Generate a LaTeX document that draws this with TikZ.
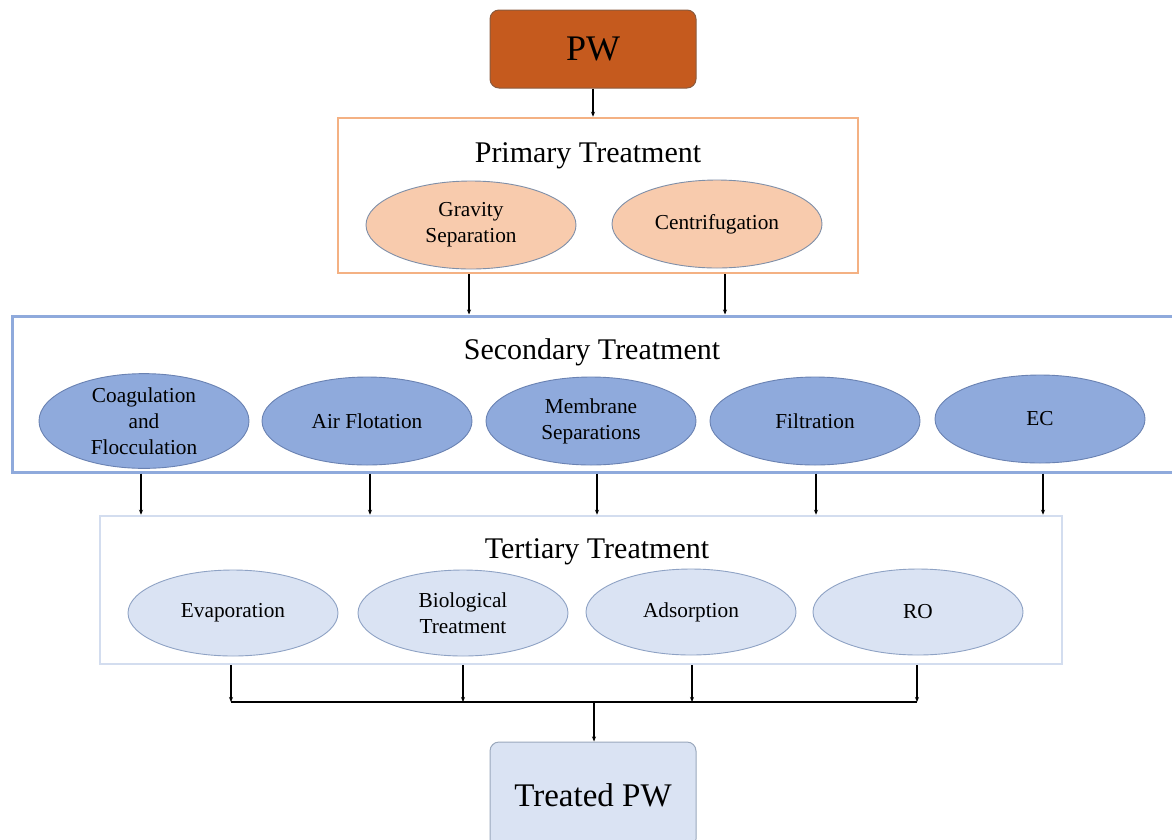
\documentclass[tikz,border=0pt]{standalone}
\usepackage{fontspec}
\setmainfont{Liberation Serif}
\usetikzlibrary{arrows.meta,shapes.geometric}

\definecolor{pwfill}{HTML}{C55A1E}
\definecolor{pwline}{HTML}{8A5A3E}
\definecolor{primline}{HTML}{F4B183}
\definecolor{primfill}{HTML}{F8CBAD}
\definecolor{secline}{HTML}{8FAADC}
\definecolor{secfill}{HTML}{8FAADC}
\definecolor{secedge}{HTML}{6A82B2}
\definecolor{terline}{HTML}{D3DDEF}
\definecolor{terfill}{HTML}{DAE3F3}
\definecolor{teredge}{HTML}{8EA2C4}
\definecolor{outline}{HTML}{9AA8BC}
\definecolor{ellline}{HTML}{7F8FA8}

\tikzset{
  arr/.style={draw=black, line width=1.1pt, -{Stealth[length=5pt,width=4pt]}},
  bus/.style={draw=black, line width=1.1pt},
  frame/.style={rectangle, minimum width=#1, fill=none, inner sep=0pt},
  title/.style={font=\fontsize{30}{33}\selectfont},
  oval/.style={ellipse, minimum width=210pt, minimum height=88pt, inner sep=0pt,
    align=center, font=\fontsize{21.3}{26}\selectfont, line width=0.9pt},
  poval/.style={oval, fill=primfill, draw=ellline},
  soval/.style={oval, fill=secfill, draw=secedge},
  toval/.style={oval, fill=terfill, draw=teredge, minimum height=86pt},
  endbox/.style={rectangle, rounded corners=9pt, minimum width=206pt,
    line width=1pt}
}

\begin{document}
\begin{tikzpicture}[x=1pt,y=-1pt]
\useasboundingbox (0,0) rectangle (1172,839);
\clip (0,0) rectangle (1172,839);

% source
\node[endbox, fill=pwfill, draw=pwline, minimum height=78pt,
      font=\fontsize{36}{40}\selectfont] (pw) at (593,49) {PW};

% primary stage
\node[frame=520pt, minimum height=155pt, draw=primline, line width=2.5pt] (prim) at (598,195.5) {};
\node[title] (primt) at (588,156) {Primary Treatment};
\node[poval] (gs) at (471,225) {Gravity\\Separation};
\node[poval] (cf) at (717,224) {Centrifugation};

% secondary stage (runs off the right edge)
\node[frame=1180pt, minimum height=156pt, draw=secline, line width=3pt] (sec) at (602,394) {};
\node[title] (sect) at (592,352) {Secondary Treatment};
\node[soval] (s1) at (144,421) {Coagulation\\and\\Flocculation};
\node[soval] (s2) at (367,421) {Air Flotation};
\node[soval] (s3) at (591,421) {Membrane\\Separations};
\node[soval] (s4) at (815,421) {Filtration};
\node[soval] (s5) at (1040,419) {EC};

% tertiary stage
\node[frame=962pt, minimum height=148pt, draw=terline, line width=2.5pt] (ter) at (581,590) {};
\node[title] (tert) at (597,552) {Tertiary Treatment};
\node[toval] (t1) at (233,613) {Evaporation};
\node[toval] (t2) at (463,613) {Biological\\Treatment};
\node[toval] (t3) at (691,612) {Adsorption};
\node[toval] (t4) at (918,612) {RO};

% product
\node[endbox, fill=terfill, draw=outline, minimum height=106pt,
      font=\fontsize{33}{36}\selectfont] (out) at (593,795) {Treated PW};

% connectors
\draw[arr] (pw.south) -- (pw.south |- prim.north);
\draw[arr] ([xshift=-2pt]gs.center |- prim.south) -- ([xshift=-2pt]gs.center |- sec.north);
\draw[arr] ([xshift=8pt]cf.center |- prim.south) -- ([xshift=8pt]cf.center |- sec.north);
\foreach \s/\dx in {s1/-3,s2/3,s3/6,s4/1,s5/3}
  \draw[arr] ([xshift=\dx pt]\s.center |- sec.south) -- ([xshift=\dx pt]\s.center |- ter.north);

\coordinate (join) at (594,702);
\foreach \t/\dx in {t1/-2,t2/0,t3/1,t4/-1}
  \draw[arr] ([xshift=\dx pt]\t.center |- ter.south) -- ([xshift=\dx pt]\t.center |- join);
\draw[bus] ([xshift=-2pt]t1.center |- join) -- ([xshift=-1pt]t4.center |- join);
\draw[arr] (join) -- (join |- out.north);
\end{tikzpicture}
\end{document}
